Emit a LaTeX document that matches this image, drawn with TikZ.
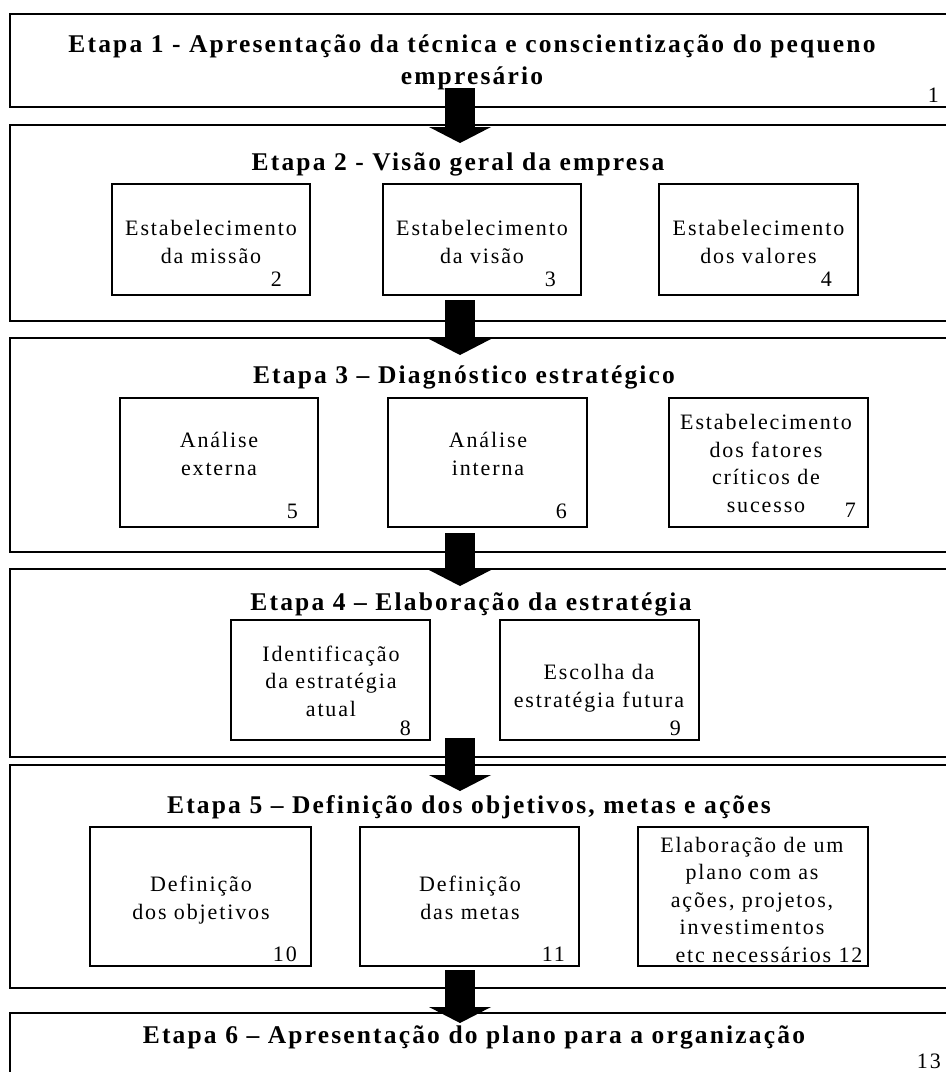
\documentclass[tikz,border=0pt]{standalone}
\usepackage{fontspec}
\setmainfont{Liberation Serif}
\newfontfamily\spaced[LetterSpace=8.5]{Liberation Serif}
\usetikzlibrary{positioning,arrows.meta}

\tikzset{
    etapa/.style={draw, line width=1.6, inner sep=0},
    subbox/.style={draw, line width=1.3, inner sep=0},
    titletext/.style={font=\spaced\bfseries\fontsize{25.5}{32}\selectfont, align=center, anchor=base},
    subtext/.style={font=\spaced\fontsize{22}{27.5}\selectfont, align=center, anchor=base},
    numtext/.style={font=\spaced\fontsize{22}{26}\selectfont, anchor=base east, inner sep=0},
    bigarrow/.style={line width=30, -{Triangle[width=62pt, length=16pt, line width=0pt]}}
}

\begin{document}
\begin{tikzpicture}[x=1pt, y=-1pt]
    \useasboundingbox (0,0) rectangle (946,1072);
    \clip (0,0) rectangle (946,1072);

    % etapas
    \node[etapa, minimum width=940, minimum height=93] (e1) at (480,60.5) {};
    \node[etapa, minimum width=940, minimum height=196] (e2) at (480,223) {};
    \node[etapa, minimum width=940, minimum height=214] (e3) at (480,445) {};
    \node[etapa, minimum width=940, minimum height=188] (e4) at (480,663) {};
    \node[etapa, minimum width=940, minimum height=223] (e5) at (480,876.5) {};
    \node[etapa, minimum width=940, minimum height=80] (e6) at (480,1053) {};

    \node[titletext] (t1) at (472,84) {Etapa 1 - Apresentação da técnica e conscientização do pequeno\\empresário};
    \node[numtext] (n1) at (939,102) {1};
    \node[titletext] (t2) at (458,170) {Etapa 2 - Visão geral da empresa};
    \node[titletext] (t3) at (464,383) {Etapa 3 – Diagnóstico estratégico};
    \node[titletext] (t4) at (471,610) {Etapa 4 – Elaboração da estratégia};
    \node[titletext] (t5) at (469,813) {Etapa 5 – Definição dos objetivos, metas e ações};
    \node[titletext] (t6) at (474,1043) {Etapa 6 – Apresentação do plano para a organização};
    \node[numtext] (n13) at (941,1068) {13};

    % etapa 2
    \node[subbox, minimum width=198, minimum height=111] (missao) at (211,239.5) {};
    \node[subbox, minimum width=198, minimum height=111] (visao) at (482,239.5) {};
    \node[subbox, minimum width=199, minimum height=111] (valores) at (758.5,239.5) {};
    \node[subtext] at (211,263) {Estabelecimento\\da missão};
    \node[subtext] at (482,263) {Estabelecimento\\da visão};
    \node[subtext] at (758.5,263) {Estabelecimento\\dos valores};
    \node[numtext] (n2) at (282,286) {2};
    \node[numtext] (n3) at (556,286) {3};
    \node[numtext] (n4) at (832,286) {4};

    % etapa 3
    \node[subbox, minimum width=198, minimum height=129] (externa) at (219,462.5) {};
    \node[subbox, minimum width=199, minimum height=129] (interna) at (487.5,462.5) {};
    \node[subbox, minimum width=199, minimum height=129] (fatores) at (768.5,462.5) {};
    \node[subtext] at (219,475) {Análise\\externa};
    \node[subtext] at (488,475) {Análise\\interna};
    \node[subtext] at (766,512) {Estabelecimento\\dos fatores\\críticos de\\sucesso};
    \node[numtext] (n5) at (298,518) {5};
    \node[numtext] (n6) at (567,518) {6};
    \node[numtext] (n7) at (856,517) {7};

    % etapa 4
    \node[subbox, minimum width=199, minimum height=120] (atual) at (330.5,680) {};
    \node[subbox, minimum width=199, minimum height=120] (futura) at (599.5,680) {};
    \node[subtext] at (331,716) {Identificação\\da estratégia\\atual};
    \node[subtext] at (599,707) {Escolha da\\estratégia futura};
    \node[numtext] (n8) at (411,735) {8};
    \node[numtext] (n9) at (681,735) {9};

    % etapa 5
    \node[subbox, minimum width=221, minimum height=139] (objetivos) at (200.5,896.5) {};
    \node[subbox, minimum width=219, minimum height=139] (metas) at (469.5,896.5) {};
    \node[subbox, minimum width=230, minimum height=139] (plano) at (753,896.5) {};
    \node[subtext] at (201,919) {Definição\\dos objetivos};
    \node[subtext] at (470,919) {Definição\\das metas};
    \node[subtext] at (752,962) {Elaboração de um\\plano com as\\ações, projetos,\\investimentos\\\hspace*{34pt}etc necessários 12};
    \node[numtext] (n10) at (297,961) {10};
    \node[numtext] (n11) at (565,961) {11};

    % setas
    \coordinate (a1) at (460,88);   \coordinate (b1) at (460,143);
    \coordinate (a2) at (460,300);  \coordinate (b2) at (460,355);
    \coordinate (a3) at (460,533);  \coordinate (b3) at (460,586);
    \coordinate (a4) at (460,738);  \coordinate (b4) at (460,791);
    \coordinate (a5) at (460,970);  \coordinate (b5) at (460,1023);
    \foreach \i in {1,...,5}
        \draw[bigarrow] (a\i) -- (b\i);
\end{tikzpicture}
\end{document}
